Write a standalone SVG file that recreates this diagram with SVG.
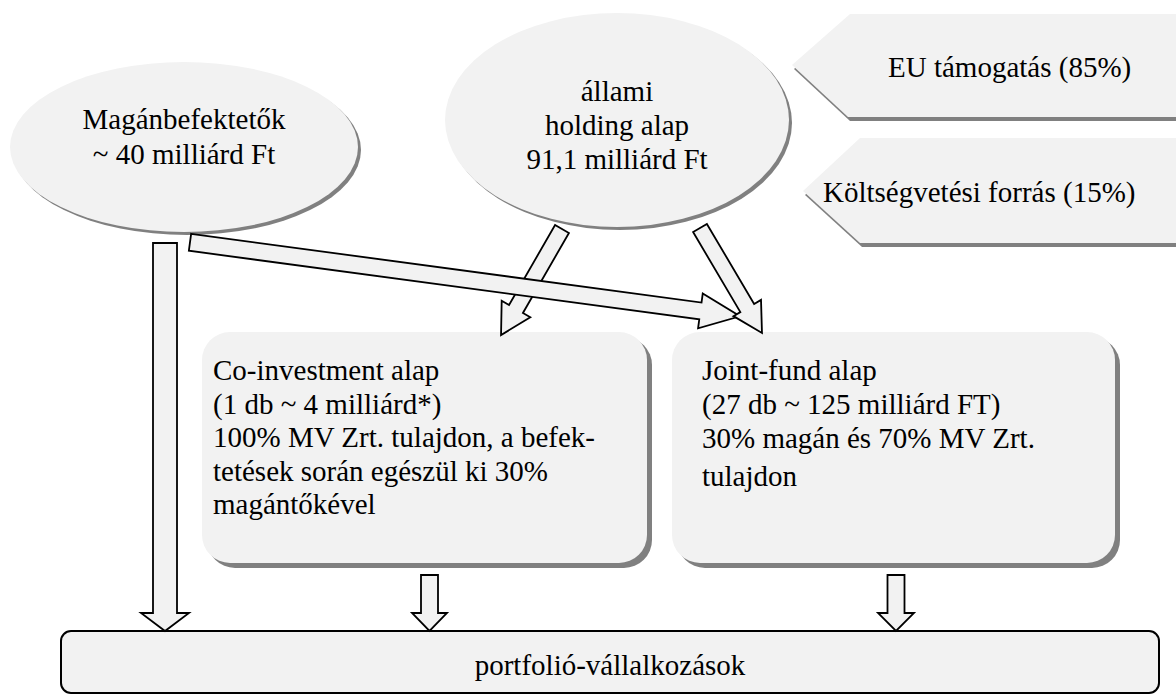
<svg xmlns="http://www.w3.org/2000/svg" width="1176" height="697" viewBox="0 0 1176 697">
<style>
.fill{fill:#f2f2f2}
.shadow{fill:#808080}
.arrow{fill:#f2f2f2;stroke:#000;stroke-width:1.8;stroke-linejoin:miter}
text{font-family:"Liberation Serif","Times New Roman",serif;font-size:29px;fill:#000}
.c{text-anchor:middle}
</style>
<rect width="1176" height="697" fill="#fff"/>
<g id="eu">
<polygon class="shadow" points="794,69 852,18 1176,18 1176,121 850,121"/>
<polygon class="fill" points="792,65 850,14 1176,14 1176,117 848,117"/>
<text x="888" y="77">EU támogatás (85%)</text>
</g>
<g id="koltsegvetes">
<polygon class="shadow" points="805,195 862,142 1176,142 1176,247 862,247"/>
<polygon class="fill" points="803,191 860,138 1176,138 1176,243 860,243"/>
<text x="823" y="202">Költségvetési forrás (15%)</text>
</g>
<g id="maganbefektetok">
<ellipse class="shadow" cx="187" cy="150" rx="174" ry="85"/>
<ellipse class="fill" cx="184" cy="147" rx="174" ry="85"/>
<text class="c" x="184" y="129">Magánbefektetők</text>
<text class="c" x="184" y="164">~ 40 milliárd Ft</text>
</g>
<g id="holding">
<ellipse class="shadow" cx="620" cy="123" rx="172" ry="107"/>
<ellipse class="fill" cx="617" cy="120" rx="172" ry="107"/>
<text class="c" x="617" y="101">állami</text>
<text class="c" x="617" y="135">holding alap</text>
<text class="c" x="617" y="169">91,1 milliárd Ft</text>
</g>
<g id="coinvestment">
<rect class="shadow" x="207" y="337" width="445" height="231" rx="28"/>
<rect class="fill" x="202" y="332" width="445" height="231" rx="28"/>
<text x="213" y="380">Co-investment alap</text>
<text x="213" y="413.5">(1 db ~ 4 milliárd*)</text>
<text x="213" y="447">100% MV Zrt. tulajdon, a befek-</text>
<text x="213" y="480.5">tetések során egészül ki 30%</text>
<text x="213" y="514">magántőkével</text>
</g>
<g id="jointfund">
<rect class="shadow" x="677" y="337" width="443" height="231" rx="28"/>
<rect class="fill" x="672" y="332" width="443" height="231" rx="28"/>
<text x="702" y="380">Joint-fund alap</text>
<text x="702" y="414">(27 db ~ 125 milliárd FT)</text>
<text x="702" y="448">30% magán és 70% MV Zrt.</text>
<text x="702" y="486">tulajdon</text>
</g>
<g id="portfolio">
<rect x="61" y="631" width="1098" height="62" rx="10" fill="#f2f2f2" stroke="#000" stroke-width="2"/>
<text class="c" x="610" y="675">portfolió-vállalkozások</text>
</g>
<g id="connectors">
<polygon class="arrow" transform="translate(562,229) rotate(119.9)" points="0,-8 92.3,-8 92.3,-16.5 122.3,0 92.3,16.5 92.3,8 0,8"/>
<polygon class="arrow" transform="translate(190,242.3) rotate(7.66)" points="0,-8.5 515,-8.5 515,-17.5 555,0 515,17.5 515,8.5 0,8.5"/>
<polygon class="arrow" transform="translate(700,228) rotate(59.44)" points="0,-8 92.9,-8 92.9,-16 121.9,0 92.9,16 92.9,8 0,8"/>
<polygon class="arrow" points="153,243 177,243 177,613 189,613 165,631 141,613 153,613"/>
<polygon class="arrow" points="421,575 438,575 438,613 447,613 429.5,631 412,613 421,613"/>
<polygon class="arrow" points="887.5,575 904.5,575 904.5,613 914,613 896,631 878,613 887.5,613"/>
</g>
</svg>
